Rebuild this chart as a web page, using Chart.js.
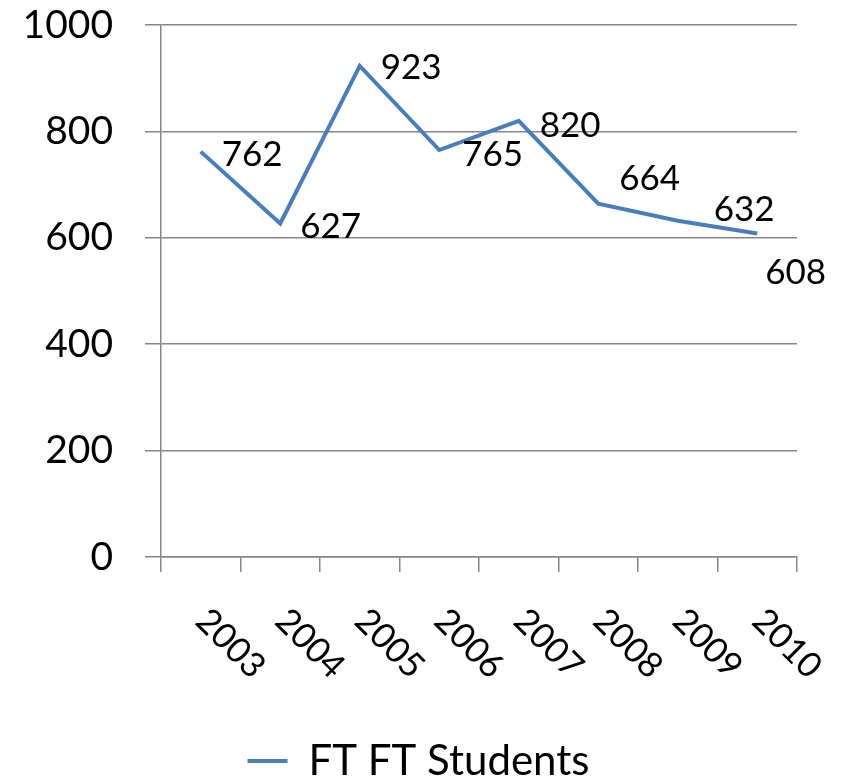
<!DOCTYPE html>
<html>
<head>
<meta charset="utf-8">
<title>FT Students</title>
<script src="https://cdn.jsdelivr.net/npm/chart.js@4.4.0/dist/chart.umd.min.js"></script>
<style>
  html, body { margin: 0; padding: 0; background: #fff; }
  #wrap { width: 844px; height: 778px; }
</style>
</head>
<body>
<div id="wrap"><canvas id="chart" width="844" height="778"></canvas></div>
<script>
// data
const years = ['2003', '2004', '2005', '2006', '2007', '2008', '2009', '2010'];
const students = [762, 627, 923, 765, 820, 664, 632, 608];
const yMin = 0;
const yMax = 1000;
const yStep = 200;

// where each value label sits relative to its point (px)
const labelNudge = [[21, 2], [20, 2], [21, 1], [23, 3], [21, 4], [21, -26], [36, -12], [8, 38]];

const BLUE = '#4a7ebb';
const GRID = '#868686';
const FONT = 'Lato';

const labelPlugin = {
    id: 'excelLabels',
    afterLayout(chart) {
        // legend is centred on the whole canvas in the original, not on the padded box
        chart.legend.left += 20;
        chart.legend.right += 20;
    },
    afterDatasetsDraw(chart) {
        const ctx = chart.ctx;
        const meta = chart.getDatasetMeta(0);
        ctx.save();
        ctx.font = `35px ${FONT}`;
        ctx.fillStyle = '#000';
        ctx.textAlign = 'left';
        ctx.textBaseline = 'alphabetic';
        meta.data.forEach((pt, i) => {
            const [dx, dy] = labelNudge[i];
            ctx.fillText(String(students[i]), pt.x + dx, pt.y + dy + 12.5);
        });
        ctx.restore();
    },
    afterDraw(chart) {
        // category labels turned 45deg clockwise, like the original
        const ctx = chart.ctx;
        const xs = chart.scales.x;
        ctx.save();
        ctx.font = `35px ${FONT}`;
        ctx.fillStyle = '#000';
        ctx.textAlign = 'left';
        ctx.textBaseline = 'middle';
        years.forEach((label, i) => {
            ctx.save();
            ctx.translate(xs.getPixelForValue(i) + 1, xs.top + 58);
            ctx.rotate(Math.PI / 4);
            ctx.fillText(label, 0, 0);
            ctx.restore();
        });
        ctx.restore();
    }
};

new Chart(document.getElementById('chart'), {
    type: 'line',
    data: {
        labels: years,
        datasets: [{
            label: 'FT FT Students',
            data: students,
            borderColor: BLUE,
            backgroundColor: BLUE,
            borderWidth: 4,
            pointRadius: 0,
            tension: 0,
            fill: false
        }]
    },
    options: {
        responsive: false,
        animation: false,
        layout: { padding: { top: 25, right: 47, bottom: -14, left: 0 } },
        plugins: {
            tooltip: { enabled: false },
            legend: {
                position: 'bottom',
                labels: {
                    color: '#000',
                    font: { family: FONT, size: 42 },
                    boxWidth: 40,
                    boxHeight: 4,
                    padding: 0,
                    generateLabels(chart) {
                        const items = Chart.defaults.plugins.legend.labels.generateLabels(chart);
                        items.forEach(it => { it.lineWidth = 0; it.fillStyle = BLUE; });
                        return items;
                    }
                }
            }
        },
        scales: {
            x: {
                offset: true,
                grid: {
                    offset: true,
                    drawOnChartArea: false,
                    drawTicks: true,
                    tickLength: 15,
                    color: GRID,
                    lineWidth: 1.5
                },
                border: { color: GRID, width: 1.5 },
                ticks: { display: false },
                afterFit(s) { s.height = 183; }
            },
            y: {
                min: yMin,
                max: yMax,
                ticks: {
                    stepSize: yStep,
                    padding: 32,
                    color: '#000',
                    font: { family: FONT, size: 39 },
                    callback: v => String(v)
                },
                grid: { color: GRID, lineWidth: 1.5, tickLength: 16 },
                border: { color: GRID, width: 1.5 },
                afterFit(s) {
                    s.width = 161;
                    s.paddingTop = 0;
                    s.paddingBottom = 0;
                }
            }
        }
    },
    plugins: [labelPlugin]
});
</script>
</body>
</html>
